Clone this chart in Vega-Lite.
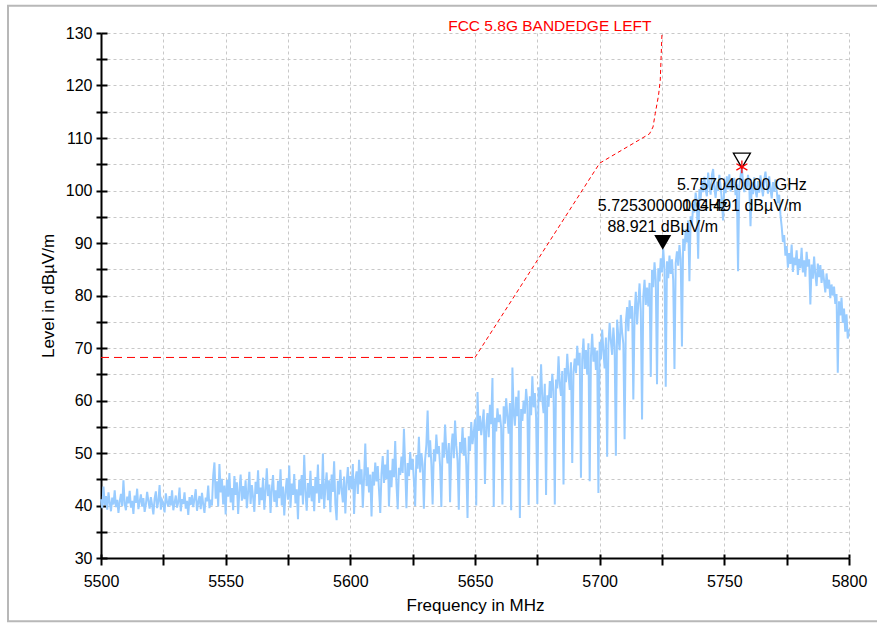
{
"$schema": "https://vega.github.io/schema/vega-lite/v6.json",
"width": 748, "height": 525,
"autosize": {"type": "none"},
"padding": {"left": 101, "top": 33, "right": 28, "bottom": 65},
"background": "white",
"config": {"view": {"stroke": null}, "font": "Liberation Sans"},
"resolve": {"axis": {"x": "independent", "y": "independent"}},
"datasets": {
"limit": [
{"f":5500,"v":68.2,"seg":"flat"},{"f":5650,"v":68.2,"seg":"flat"},
{"f":5650,"v":68.2,"seg":"rise"},{"f":5700,"v":105.2,"seg":"rise"},{"f":5720,"v":110.8,"seg":"rise"},{"f":5721.4,"v":112.1,"seg":"rise"},{"f":5722.3,"v":114.7,"seg":"rise"},{"f":5723.6,"v":118.1,"seg":"rise"},{"f":5724.3,"v":121,"seg":"rise"},{"f":5725,"v":130,"seg":"rise"}
],
"markers": [
{"id":"M1","f":5725.3,"v":88.921,"label":"5.725300000 GHz\n88.921 dBµV/m"},
{"id":"M2","f":5757.04,"v":104.491,"label":"5.757040000 GHz\n104.491 dBµV/m"}
],
"trace": [
{"f":5500,"v":41.2},{"f":5500.5,"v":39.5},{"f":5501,"v":43.6},{"f":5501.5,"v":40.1},{"f":5502,"v":41.8},{"f":5502.5,"v":39.2},{"f":5503,"v":42.5},{"f":5503.5,"v":40.6},{"f":5504,"v":38.9},{"f":5504.5,"v":41.5},{"f":5505,"v":40.2},{"f":5505.5,"v":42.9},{"f":5506,"v":39.7},{"f":5506.5,"v":41.1},{"f":5507,"v":38.6},{"f":5507.5,"v":40.8},{"f":5508,"v":42.2},{"f":5508.5,"v":39.9},{"f":5509,"v":44.8},{"f":5509.5,"v":40.3},
{"f":5510,"v":39.1},{"f":5510.5,"v":41.7},{"f":5511,"v":40.4},{"f":5511.5,"v":42.8},{"f":5512,"v":39.6},{"f":5512.5,"v":40.9},{"f":5513,"v":38.4},{"f":5513.5,"v":41.9},{"f":5514,"v":40.5},{"f":5514.5,"v":43.2},{"f":5515,"v":39.3},{"f":5515.5,"v":40.7},{"f":5516,"v":42.1},{"f":5516.5,"v":39.8},{"f":5517,"v":41.4},{"f":5517.5,"v":38.8},{"f":5518,"v":40.2},{"f":5518.5,"v":42.6},{"f":5519,"v":40.9},{"f":5519.5,"v":39.4},
{"f":5520,"v":41.6},{"f":5520.5,"v":40.1},{"f":5521,"v":38.3},{"f":5521.5,"v":41.3},{"f":5522,"v":42.7},{"f":5522.5,"v":39.5},{"f":5523,"v":40.8},{"f":5523.5,"v":43.9},{"f":5524,"v":39.2},{"f":5524.5,"v":41.0},{"f":5525,"v":40.4},{"f":5525.5,"v":38.7},{"f":5526,"v":42.3},{"f":5526.5,"v":40.6},{"f":5527,"v":39.8},{"f":5527.5,"v":41.8},{"f":5528,"v":40.0},{"f":5528.5,"v":42.9},{"f":5529,"v":39.1},{"f":5529.5,"v":40.5},
{"f":5530,"v":41.9},{"f":5530.5,"v":39.6},{"f":5531,"v":40.7},{"f":5531.5,"v":43.4},{"f":5532,"v":38.9},{"f":5532.5,"v":41.2},{"f":5533,"v":40.3},{"f":5533.5,"v":42.5},{"f":5534,"v":39.4},{"f":5534.5,"v":40.9},{"f":5535,"v":38.2},{"f":5535.5,"v":41.6},{"f":5536,"v":40.1},{"f":5536.5,"v":42.0},{"f":5537,"v":39.7},{"f":5537.5,"v":41.3},{"f":5538,"v":43.1},{"f":5538.5,"v":39.0},{"f":5539,"v":40.6},{"f":5539.5,"v":41.8},
{"f":5540,"v":39.3},{"f":5540.5,"v":42.4},{"f":5541,"v":40.2},{"f":5541.5,"v":38.6},{"f":5542,"v":41.5},{"f":5542.5,"v":40.8},{"f":5543,"v":43.8},{"f":5543.5,"v":39.5},{"f":5544,"v":41.1},{"f":5544.5,"v":40.0},{"f":5545,"v":45.7},{"f":5545.5,"v":48.2},{"f":5546,"v":41.3},{"f":5546.5,"v":44.6},{"f":5547,"v":39.8},{"f":5547.5,"v":47.9},{"f":5548,"v":42.5},{"f":5548.5,"v":45.1},{"f":5549,"v":40.2},{"f":5549.5,"v":43.8},
{"f":5550,"v":38.3},{"f":5550.5,"v":44.9},{"f":5551,"v":41.7},{"f":5551.5,"v":46.2},{"f":5552,"v":40.6},{"f":5552.5,"v":43.3},{"f":5553,"v":39.1},{"f":5553.5,"v":45.6},{"f":5554,"v":42.0},{"f":5554.5,"v":44.4},{"f":5555,"v":38.4},{"f":5555.5,"v":42.8},{"f":5556,"v":45.9},{"f":5556.5,"v":40.9},{"f":5557,"v":43.7},{"f":5557.5,"v":41.2},{"f":5558,"v":44.8},{"f":5558.5,"v":39.5},{"f":5559,"v":42.6},{"f":5559.5,"v":46.4},
{"f":5560,"v":40.3},{"f":5560.5,"v":43.9},{"f":5561,"v":41.6},{"f":5561.5,"v":38.8},{"f":5562,"v":44.5},{"f":5562.5,"v":42.2},{"f":5563,"v":46.7},{"f":5563.5,"v":40.1},{"f":5564,"v":43.4},{"f":5564.5,"v":41.0},{"f":5565,"v":45.3},{"f":5565.5,"v":39.2},{"f":5566,"v":42.7},{"f":5566.5,"v":47.1},{"f":5567,"v":41.8},{"f":5567.5,"v":44.0},{"f":5568,"v":38.6},{"f":5568.5,"v":43.2},{"f":5569,"v":45.8},{"f":5569.5,"v":40.7},
{"f":5570,"v":42.9},{"f":5570.5,"v":39.7},{"f":5571,"v":44.7},{"f":5571.5,"v":41.4},{"f":5572,"v":46.9},{"f":5572.5,"v":40.0},{"f":5573,"v":43.6},{"f":5573.5,"v":38.1},{"f":5574,"v":42.4},{"f":5574.5,"v":45.2},{"f":5575,"v":41.1},{"f":5575.5,"v":47.6},{"f":5576,"v":39.6},{"f":5576.5,"v":44.2},{"f":5577,"v":42.0},{"f":5577.5,"v":46.0},{"f":5578,"v":40.4},{"f":5578.5,"v":43.1},{"f":5579,"v":37.4},{"f":5579.5,"v":44.9},
{"f":5580,"v":41.9},{"f":5580.5,"v":45.8},{"f":5581,"v":40.2},{"f":5581.5,"v":49.6},{"f":5582,"v":42.7},{"f":5582.5,"v":39.0},{"f":5583,"v":44.3},{"f":5583.5,"v":41.5},{"f":5584,"v":46.6},{"f":5584.5,"v":40.8},{"f":5585,"v":43.7},{"f":5585.5,"v":38.9},{"f":5586,"v":45.4},{"f":5586.5,"v":42.3},{"f":5587,"v":47.8},{"f":5587.5,"v":40.5},{"f":5588,"v":44.1},{"f":5588.5,"v":41.2},{"f":5589,"v":49.9},{"f":5589.5,"v":39.4},
{"f":5590,"v":43.5},{"f":5590.5,"v":46.3},{"f":5591,"v":41.0},{"f":5591.5,"v":44.8},{"f":5592,"v":38.7},{"f":5592.5,"v":45.9},{"f":5593,"v":42.6},{"f":5593.5,"v":48.4},{"f":5594,"v":40.3},{"f":5594.5,"v":37.2},{"f":5595,"v":44.7},{"f":5595.5,"v":42.1},{"f":5596,"v":46.8},{"f":5596.5,"v":43.0},{"f":5597,"v":40.6},{"f":5597.5,"v":45.5},{"f":5598,"v":38.5},{"f":5598.5,"v":44.2},{"f":5599,"v":47.3},{"f":5599.5,"v":42.9},
{"f":5600,"v":45.6},{"f":5600.5,"v":43.1},{"f":5601,"v":47.9},{"f":5601.5,"v":38.4},{"f":5602,"v":44.8},{"f":5602.5,"v":46.5},{"f":5603,"v":42.2},{"f":5603.5,"v":48.7},{"f":5604,"v":44.0},{"f":5604.5,"v":46.9},{"f":5605,"v":39.6},{"f":5605.5,"v":45.2},{"f":5606,"v":51.8},{"f":5606.5,"v":43.7},{"f":5607,"v":47.3},{"f":5607.5,"v":42.5},{"f":5608,"v":45.9},{"f":5608.5,"v":37.9},{"f":5609,"v":46.4},{"f":5609.5,"v":43.8},
{"f":5610,"v":48.2},{"f":5610.5,"v":44.6},{"f":5611,"v":47.5},{"f":5611.5,"v":42.9},{"f":5612,"v":38.6},{"f":5612.5,"v":46.1},{"f":5613,"v":49.4},{"f":5613.5,"v":44.3},{"f":5614,"v":47.8},{"f":5614.5,"v":45.0},{"f":5615,"v":50.6},{"f":5615.5,"v":39.8},{"f":5616,"v":46.7},{"f":5616.5,"v":43.5},{"f":5617,"v":48.9},{"f":5617.5,"v":45.4},{"f":5618,"v":52.3},{"f":5618.5,"v":44.1},{"f":5619,"v":39.3},{"f":5619.5,"v":47.2},
{"f":5620,"v":45.8},{"f":5620.5,"v":49.3},{"f":5621,"v":46.2},{"f":5621.5,"v":54.6},{"f":5622,"v":47.4},{"f":5622.5,"v":39.5},{"f":5623,"v":48.1},{"f":5623.5,"v":45.6},{"f":5624,"v":50.2},{"f":5624.5,"v":46.8},{"f":5625,"v":48.9},{"f":5625.5,"v":44.7},{"f":5626,"v":39.9},{"f":5626.5,"v":49.6},{"f":5627,"v":47.0},{"f":5627.5,"v":53.1},{"f":5628,"v":46.3},{"f":5628.5,"v":50.0},{"f":5629,"v":47.7},{"f":5629.5,"v":39.4},
{"f":5630,"v":48.8},{"f":5630.5,"v":51.6},{"f":5631,"v":58.1},{"f":5631.5,"v":49.2},{"f":5632,"v":52.4},{"f":5632.5,"v":47.9},{"f":5633,"v":40.2},{"f":5633.5,"v":50.7},{"f":5634,"v":48.4},{"f":5634.5,"v":53.5},{"f":5635,"v":49.8},{"f":5635.5,"v":51.3},{"f":5636,"v":47.5},{"f":5636.5,"v":39.7},{"f":5637,"v":52.0},{"f":5637.5,"v":49.1},{"f":5638,"v":55.4},{"f":5638.5,"v":50.3},{"f":5639,"v":48.0},{"f":5639.5,"v":51.9},
{"f":5640,"v":40.6},{"f":5640.5,"v":50.8},{"f":5641,"v":53.7},{"f":5641.5,"v":49.0},{"f":5642,"v":56.2},{"f":5642.5,"v":51.4},{"f":5643,"v":48.6},{"f":5643.5,"v":39.2},{"f":5644,"v":52.1},{"f":5644.5,"v":50.0},{"f":5645,"v":54.8},{"f":5645.5,"v":49.5},{"f":5646,"v":52.9},{"f":5646.5,"v":47.8},{"f":5647,"v":37.6},{"f":5647.5,"v":53.2},{"f":5648,"v":50.4},{"f":5648.5,"v":55.9},{"f":5649,"v":51.7},{"f":5649.5,"v":54.0},
{"f":5650,"v":56.4},{"f":5650.5,"v":40.0},{"f":5651,"v":61.6},{"f":5651.5,"v":54.2},{"f":5652,"v":57.1},{"f":5652.5,"v":53.4},{"f":5653,"v":55.8},{"f":5653.5,"v":58.3},{"f":5654,"v":44.1},{"f":5654.5,"v":55.0},{"f":5655,"v":57.6},{"f":5655.5,"v":53.0},{"f":5656,"v":59.2},{"f":5656.5,"v":55.5},{"f":5657,"v":64.3},{"f":5657.5,"v":39.7},{"f":5658,"v":56.7},{"f":5658.5,"v":54.1},{"f":5659,"v":58.5},{"f":5659.5,"v":55.9},
{"f":5660,"v":57.3},{"f":5660.5,"v":54.8},{"f":5661,"v":40.2},{"f":5661.5,"v":58.9},{"f":5662,"v":55.6},{"f":5662.5,"v":60.4},{"f":5663,"v":56.9},{"f":5663.5,"v":53.7},{"f":5664,"v":59.5},{"f":5664.5,"v":39.1},{"f":5665,"v":66.3},{"f":5665.5,"v":57.8},{"f":5666,"v":55.2},{"f":5666.5,"v":60.7},{"f":5667,"v":57.0},{"f":5667.5,"v":61.9},{"f":5668,"v":37.6},{"f":5668.5,"v":58.4},{"f":5669,"v":56.1},{"f":5669.5,"v":60.0},
{"f":5670,"v":57.5},{"f":5670.5,"v":62.2},{"f":5671,"v":59.3},{"f":5671.5,"v":40.1},{"f":5672,"v":60.8},{"f":5672.5,"v":57.2},{"f":5673,"v":64.6},{"f":5673.5,"v":58.7},{"f":5674,"v":61.4},{"f":5674.5,"v":56.9},{"f":5675,"v":40.3},{"f":5675.5,"v":62.5},{"f":5676,"v":59.8},{"f":5676.5,"v":66.9},{"f":5677,"v":60.1},{"f":5677.5,"v":57.6},{"f":5678,"v":63.2},{"f":5678.5,"v":42.0},{"f":5679,"v":61.0},{"f":5679.5,"v":58.8},
{"f":5680,"v":63.7},{"f":5680.5,"v":60.5},{"f":5681,"v":65.1},{"f":5681.5,"v":61.8},{"f":5682,"v":40.2},{"f":5682.5,"v":64.0},{"f":5683,"v":62.3},{"f":5683.5,"v":68.4},{"f":5684,"v":63.1},{"f":5684.5,"v":60.9},{"f":5685,"v":65.6},{"f":5685.5,"v":44.0},{"f":5686,"v":66.2},{"f":5686.5,"v":63.5},{"f":5687,"v":68.9},{"f":5687.5,"v":64.8},{"f":5688,"v":62.0},{"f":5688.5,"v":67.3},{"f":5689,"v":48.1},{"f":5689.5,"v":65.4},
{"f":5690,"v":68.0},{"f":5690.5,"v":65.2},{"f":5691,"v":70.4},{"f":5691.5,"v":66.7},{"f":5692,"v":69.1},{"f":5692.5,"v":45.3},{"f":5693,"v":67.9},{"f":5693.5,"v":71.8},{"f":5694,"v":66.0},{"f":5694.5,"v":69.6},{"f":5695,"v":64.9},{"f":5695.5,"v":70.9},{"f":5696,"v":44.6},{"f":5696.5,"v":68.3},{"f":5697,"v":72.7},{"f":5697.5,"v":67.4},{"f":5698,"v":70.1},{"f":5698.5,"v":65.8},{"f":5699,"v":69.5},{"f":5699.5,"v":42.4},
{"f":5700,"v":71.2},{"f":5700.5,"v":67.8},{"f":5701,"v":73.5},{"f":5701.5,"v":69.4},{"f":5702,"v":66.1},{"f":5702.5,"v":72.0},{"f":5703,"v":49.3},{"f":5703.5,"v":70.6},{"f":5704,"v":74.8},{"f":5704.5,"v":71.3},{"f":5705,"v":68.7},{"f":5705.5,"v":73.9},{"f":5706,"v":70.2},{"f":5706.5,"v":49.5},{"f":5707,"v":75.4},{"f":5707.5,"v":72.1},{"f":5708,"v":69.6},{"f":5708.5,"v":76.3},{"f":5709,"v":73.0},{"f":5709.5,"v":70.8},
{"f":5710,"v":52.6},{"f":5710.5,"v":74.9},{"f":5711,"v":77.8},{"f":5711.5,"v":73.2},{"f":5712,"v":79.1},{"f":5712.5,"v":75.6},{"f":5713,"v":78.0},{"f":5713.5,"v":60.2},{"f":5714,"v":76.4},{"f":5714.5,"v":80.7},{"f":5715,"v":74.5},{"f":5715.5,"v":78.6},{"f":5716,"v":82.3},{"f":5716.5,"v":77.1},{"f":5717,"v":56.4},{"f":5717.5,"v":79.8},{"f":5718,"v":83.0},{"f":5718.5,"v":78.2},{"f":5719,"v":81.5},{"f":5719.5,"v":77.9},
{"f":5720,"v":82.4},{"f":5720.5,"v":64.5},{"f":5721,"v":84.9},{"f":5721.5,"v":81.6},{"f":5722,"v":86.3},{"f":5722.5,"v":83.0},{"f":5723,"v":63.1},{"f":5723.5,"v":85.2},{"f":5724,"v":82.7},{"f":5724.5,"v":87.1},{"f":5725,"v":84.4},{"f":5725.5,"v":88.9},{"f":5726,"v":85.0},{"f":5726.5,"v":62.6},{"f":5727,"v":86.5},{"f":5727.5,"v":83.3},{"f":5728,"v":87.6},{"f":5728.5,"v":84.1},{"f":5729,"v":86.9},{"f":5729.5,"v":82.8},
{"f":5730,"v":66.0},{"f":5730.5,"v":86.2},{"f":5731,"v":88.4},{"f":5731.5,"v":85.7},{"f":5732,"v":89.6},{"f":5732.5,"v":87.0},{"f":5733,"v":70.3},{"f":5733.5,"v":90.8},{"f":5734,"v":88.5},{"f":5734.5,"v":92.6},{"f":5735,"v":90.1},{"f":5735.5,"v":94.3},{"f":5736,"v":82.7},{"f":5736.5,"v":95.1},{"f":5737,"v":93.2},{"f":5737.5,"v":97.4},{"f":5738,"v":95.8},{"f":5738.5,"v":99.6},{"f":5739,"v":97.5},{"f":5739.5,"v":87.0},
{"f":5740,"v":100.3},{"f":5740.5,"v":98.4},{"f":5741,"v":101.8},{"f":5741.5,"v":99.7},{"f":5742,"v":102.6},{"f":5742.5,"v":100.1},{"f":5743,"v":98.9},{"f":5743.5,"v":103.4},{"f":5744,"v":101.0},{"f":5744.5,"v":99.2},{"f":5745,"v":102.9},{"f":5745.5,"v":104.1},{"f":5746,"v":100.5},{"f":5746.5,"v":98.6},{"f":5747,"v":101.7},{"f":5747.5,"v":99.9},{"f":5748,"v":103.0},{"f":5748.5,"v":100.8},{"f":5749,"v":98.2},{"f":5749.5,"v":94.3},
{"f":5750,"v":101.4},{"f":5750.5,"v":99.5},{"f":5751,"v":102.7},{"f":5751.5,"v":100.2},{"f":5752,"v":103.1},{"f":5752.5,"v":99.8},{"f":5753,"v":101.9},{"f":5753.5,"v":100.6},{"f":5754,"v":102.4},{"f":5754.5,"v":99.1},{"f":5755,"v":101.2},{"f":5755.5,"v":84.6},{"f":5756,"v":100.9},{"f":5756.5,"v":102.8},{"f":5757,"v":104.49},{"f":5757.5,"v":101.6},{"f":5758,"v":99.7},{"f":5758.5,"v":102.2},{"f":5759,"v":100.4},{"f":5759.5,"v":103.0},
{"f":5760,"v":100.9},{"f":5760.5,"v":93.2},{"f":5761,"v":101.5},{"f":5761.5,"v":99.3},{"f":5762,"v":102.5},{"f":5762.5,"v":100.0},{"f":5763,"v":98.7},{"f":5763.5,"v":101.8},{"f":5764,"v":99.6},{"f":5764.5,"v":102.9},{"f":5765,"v":100.7},{"f":5765.5,"v":98.9},{"f":5766,"v":102.0},{"f":5766.5,"v":103.6},{"f":5767,"v":101.1},{"f":5767.5,"v":99.4},{"f":5768,"v":102.7},{"f":5768.5,"v":100.3},{"f":5769,"v":98.5},{"f":5769.5,"v":101.6},
{"f":5770,"v":99.8},{"f":5770.5,"v":102.1},{"f":5771,"v":100.0},{"f":5771.5,"v":97.6},{"f":5772,"v":99.2},{"f":5772.5,"v":95.4},{"f":5773,"v":93.1},{"f":5773.5,"v":90.2},{"f":5774,"v":91.5},{"f":5774.5,"v":87.6},{"f":5775,"v":89.4},{"f":5775.5,"v":85.3},{"f":5776,"v":88.1},{"f":5776.5,"v":86.0},{"f":5777,"v":89.7},{"f":5777.5,"v":84.5},{"f":5778,"v":87.2},{"f":5778.5,"v":85.8},{"f":5779,"v":88.6},{"f":5779.5,"v":83.9},
{"f":5780,"v":87.0},{"f":5780.5,"v":85.2},{"f":5781,"v":89.1},{"f":5781.5,"v":84.4},{"f":5782,"v":86.7},{"f":5782.5,"v":83.6},{"f":5783,"v":88.3},{"f":5783.5,"v":85.5},{"f":5784,"v":86.9},{"f":5784.5,"v":78.3},{"f":5785,"v":85.9},{"f":5785.5,"v":83.2},{"f":5786,"v":87.4},{"f":5786.5,"v":84.0},{"f":5787,"v":81.8},{"f":5787.5,"v":86.1},{"f":5788,"v":83.5},{"f":5788.5,"v":85.8},{"f":5789,"v":82.4},{"f":5789.5,"v":84.9},
{"f":5790,"v":82.9},{"f":5790.5,"v":80.6},{"f":5791,"v":84.2},{"f":5791.5,"v":81.3},{"f":5792,"v":83.0},{"f":5792.5,"v":79.5},{"f":5793,"v":82.1},{"f":5793.5,"v":80.0},{"f":5794,"v":81.7},{"f":5794.5,"v":78.4},{"f":5795,"v":80.3},{"f":5795.5,"v":65.3},{"f":5796,"v":78.9},{"f":5796.5,"v":76.2},{"f":5797,"v":79.6},{"f":5797.5,"v":74.8},{"f":5798,"v":77.5},{"f":5798.5,"v":73.1},{"f":5799,"v":76.4},{"f":5799.5,"v":71.8},{"f":5800,"v":73.6}
]
},
"layer": [
{
"data": {"values": [{}]},
"mark": {"type": "rect", "fillOpacity": 0, "stroke": "#b8b8b8", "strokeWidth": 2},
"encoding": {
"x": {"datum": 5462.7, "type": "quantitative", "scale": {"domain": [5500, 5800], "nice": false, "zero": false}, "axis": null},
"x2": {"datum": 5815},
"y": {"datum": 135.2, "type": "quantitative", "scale": {"domain": [30, 130], "nice": false, "zero": false}, "axis": null},
"y2": {"datum": 17.94}
}
},
{
"data": {"name": "limit"},
"mark": {"type": "line", "color": "#ff0000", "strokeWidth": 1},
"encoding": {
"x": {"field": "f", "type": "quantitative", "scale": {"domain": [5500, 5800], "nice": false, "zero": false},
"axis": {"orient": "bottom", "offset": -4, "values": [5500,5525,5550,5575,5600,5625,5650,5675,5700,5725,5750,5775,5800], "labels": false, "domain": false, "grid": false, "ticks": true, "tickSize": 4, "tickWidth": 2, "tickColor": "black", "title": null}},
"y": {"field": "v", "type": "quantitative", "scale": {"domain": [30, 130], "nice": false, "zero": false},
"axis": {"orient": "left", "offset": -6, "values": [30,35,40,45,50,55,60,65,70,75,80,85,90,95,100,105,110,115,120,125,130], "labels": false, "domain": false, "grid": false, "ticks": true, "tickSize": 6, "tickWidth": 2, "tickColor": "black", "title": null}},
"strokeDash": {"field": "seg", "type": "nominal", "scale": {"domain": ["flat", "rise"], "range": [[8, 5], [4, 3]]}, "legend": null}
}
},
{
"data": {"name": "trace"},
"mark": {"type": "line", "color": "#99ccff", "strokeWidth": 2},
"encoding": {
"x": {"field": "f", "type": "quantitative", "scale": {"domain": [5500, 5800], "nice": false, "zero": false},
"axis": {"orient": "bottom", "values": [5500,5525,5550,5575,5600,5625,5650,5675,5700,5725,5750,5775,5800], "format": "d", "labelExpr": "datum.value % 50 === 0 ? datum.label : ''",
"grid": true, "gridColor": "#c8c8c8", "gridDash": [3, 3], "gridWidth": 1,
"domainColor": "black", "domainWidth": 2, "tickColor": "black", "tickWidth": 2, "tickSize": 7,
"labelPadding": 8, "labelFontSize": 16, "labelColor": "black", "labelFont": "Liberation Sans", "labelOverlap": false, "labelFlush": false, "labelBound": false,
"title": "Frequency in MHz", "titleFontSize": 17, "titleFontWeight": "normal", "titleColor": "black", "titleFont": "Liberation Sans", "titlePadding": 8}},
"y": {"field": "v", "type": "quantitative", "scale": {"domain": [30, 130], "nice": false, "zero": false},
"axis": {"orient": "left", "values": [30,35,40,45,50,55,60,65,70,75,80,85,90,95,100,105,110,115,120,125,130], "labelExpr": "datum.value % 10 === 0 ? datum.label : ''",
"grid": true, "gridColor": "#c8c8c8", "gridDash": [3, 3], "gridWidth": 1,
"domainColor": "black", "domainWidth": 2, "tickColor": "black", "tickWidth": 2, "tickSize": 5,
"labelPadding": 4, "labelFontSize": 16, "labelColor": "black", "labelFont": "Liberation Sans", "labelOverlap": false, "labelFlush": false, "labelBound": false,
"title": "Level in dBµV/m", "titleFontSize": 17, "titleFontWeight": "normal", "titleColor": "black", "titleFont": "Liberation Sans", "titlePadding": 8}}
}
},
{
"data": {"name": "markers"},
"transform": [{"filter": "datum.id === 'M1'"}],
"layer": [
{"mark": {"type": "point", "shape": "triangle-down", "filled": true, "color": "black", "opacity": 1, "size": 290, "yOffset": -6.2}},
{"mark": {"type": "text", "fontSize": 16, "color": "black", "align": "center", "baseline": "alphabetic", "lineBreak": "\n", "lineHeight": 21, "dy": -37.7}, "encoding": {"text": {"field": "label"}}}
],
"encoding": {
"x": {"field": "f", "type": "quantitative", "scale": {"domain": [5500, 5800], "nice": false, "zero": false}, "axis": null},
"y": {"field": "v", "type": "quantitative", "scale": {"domain": [30, 130], "nice": false, "zero": false}, "axis": null}
}
},
{
"data": {"name": "markers"},
"transform": [{"filter": "datum.id === 'M2'"}],
"layer": [
{"mark": {"type": "point", "shape": "triangle-down", "filled": false, "color": "black", "strokeWidth": 1.3, "opacity": 1, "size": 290, "yOffset": -6.4}},
{"mark": {"type": "point", "shape": "M0,-1L0,1M-0.87,-0.5L0.87,0.5M-0.87,0.5L0.87,-0.5", "filled": false, "color": "#ff0000", "strokeWidth": 1.3, "opacity": 1, "size": 160}},
{"mark": {"type": "text", "fontSize": 16, "color": "black", "align": "center", "baseline": "alphabetic", "lineBreak": "\n", "lineHeight": 21, "dy": 23}, "encoding": {"text": {"field": "label"}}}
],
"encoding": {
"x": {"field": "f", "type": "quantitative", "scale": {"domain": [5500, 5800], "nice": false, "zero": false}, "axis": null},
"y": {"field": "v", "type": "quantitative", "scale": {"domain": [30, 130], "nice": false, "zero": false}, "axis": null}
}
},
{
"data": {"values": [{"t": "FCC 5.8G BANDEDGE LEFT"}]},
"mark": {"type": "text", "color": "#ff0000", "fontSize": 15.5, "align": "center", "baseline": "alphabetic", "dy": -2.5},
"encoding": {
"x": {"datum": 5680, "type": "quantitative", "scale": {"domain": [5500, 5800], "nice": false, "zero": false}, "axis": null},
"y": {"datum": 130, "type": "quantitative", "scale": {"domain": [30, 130], "nice": false, "zero": false}, "axis": null},
"text": {"field": "t"}
}
}
]
}
